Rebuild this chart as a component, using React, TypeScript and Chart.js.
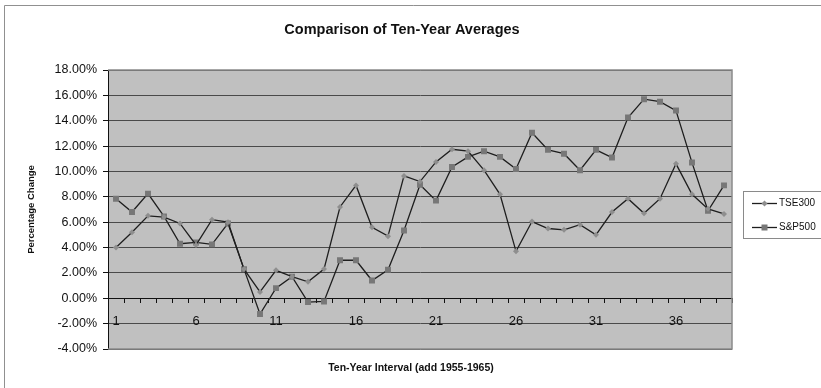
import React, { useEffect, useRef } from "react";
import { Chart, registerables } from "chart.js";

Chart.register(...registerables);

const categories: string[] = Array.from({ length: 39 }, (_, i) => String(i + 1));

const tse300: number[] = [
  4.0, 5.2, 6.5, 6.4, 5.9, 4.2, 6.2, 6.0, 2.3, 0.5,
  2.2, 1.7, 1.3, 2.3, 7.2, 8.9, 5.6, 4.9, 9.65, 9.2,
  10.75, 11.75, 11.6, 10.1, 8.2, 3.7, 6.05, 5.5, 5.4, 5.8,
  5.0, 6.8, 7.85, 6.7, 7.85, 10.6, 8.2, 7.05, 6.65,
];

const sp500: number[] = [
  7.85, 6.8, 8.25, 6.45, 4.3, 4.4, 4.25, 5.9, 2.3, -1.24,
  0.8, 1.7, -0.3, -0.25, 3.0, 3.0, 1.4, 2.25, 5.35, 8.95,
  7.7, 10.35, 11.15, 11.6, 11.15, 10.2, 13.05, 11.7, 11.4, 10.1,
  11.7, 11.1, 14.25, 15.7, 15.5, 14.8, 10.7, 6.9, 8.9,
];

const seriesNames: string[] = ["TSE300", "S&P500"];
const chartTitle = "Comparison of Ten-Year Averages";
const xTitle = "Ten-Year Interval (add 1955-1965)";
const yTitle = "Percentage Change";

const FONT = "'Liberation Sans', Arial, sans-serif";
const LINE = "#1e1e1e";
const TSE_FILL = "#8e8e8e";
const SP_FILL = "#777777";

const decorPlugin = {
  id: "decor",
  beforeDraw(chart: any) {
    const { ctx, chartArea: a } = chart;
    ctx.save();
    ctx.fillStyle = "#ffffff";
    ctx.fillRect(0, 0, chart.width, chart.height);
    ctx.fillStyle = "#c0c0c0";
    ctx.fillRect(a.left, a.top, a.right - a.left, a.bottom - a.top);
    ctx.restore();
  },
  afterDraw(chart: any) {
    const { ctx, chartArea: a } = chart;
    ctx.save();
    // plot border (top, right, bottom)
    ctx.strokeStyle = "#8a8a8a";
    ctx.lineWidth = 1.5;
    ctx.beginPath();
    ctx.moveTo(a.left, a.top);
    ctx.lineTo(a.right, a.top);
    ctx.lineTo(a.right, a.bottom);
    ctx.lineTo(a.left, a.bottom);
    ctx.stroke();

    // outer chart border
    ctx.strokeStyle = "#909090";
    ctx.lineWidth = 1;
    ctx.beginPath();
    ctx.moveTo(4.5, chart.height + 2);
    ctx.lineTo(4.5, 5.5);
    ctx.lineTo(chart.width + 2, 5.5);
    ctx.stroke();

    // title
    ctx.fillStyle = "#111";
    ctx.textAlign = "center";
    ctx.textBaseline = "middle";
    ctx.font = `bold 14.5px ${FONT}`;
    ctx.fillText(chartTitle, 402, 30);

    // x title
    ctx.font = `bold 10.5px ${FONT}`;
    ctx.fillText(xTitle, 411, 368);

    // legend
    const lx = 743.5, ly = 191.5, lw = 90, lh = 47;
    ctx.strokeStyle = "#8a8a8a";
    ctx.lineWidth = 1;
    ctx.strokeRect(lx, ly, lw, lh);
    const items = [
      { y: 203.5, fill: TSE_FILL, style: "diamond" },
      { y: 227.5, fill: SP_FILL, style: "square" },
    ];
    items.forEach((it, i) => {
      ctx.strokeStyle = LINE;
      ctx.lineWidth = 1.3;
      ctx.beginPath();
      ctx.moveTo(752, it.y);
      ctx.lineTo(777, it.y);
      ctx.stroke();
      ctx.fillStyle = it.fill;
      ctx.beginPath();
      if (it.style === "diamond") {
        ctx.moveTo(764.5 - 3, it.y);
        ctx.lineTo(764.5, it.y - 3);
        ctx.lineTo(764.5 + 3, it.y);
        ctx.lineTo(764.5, it.y + 3);
        ctx.closePath();
      } else {
        ctx.rect(764.5 - 3, it.y - 3, 6, 6);
      }
      ctx.fill();
      ctx.fillStyle = "#111";
      ctx.textAlign = "left";
      ctx.textBaseline = "middle";
      ctx.font = `10px ${FONT}`;
      ctx.fillText(seriesNames[i], 779, it.y);
    });
    ctx.restore();
  },
};

export default function App() {
  const ref = useRef<HTMLCanvasElement | null>(null);

  useEffect(() => {
    if (!ref.current) return;
    const chart = new Chart(ref.current, {
      type: "line",
      data: {
        labels: categories,
        datasets: [
          {
            label: seriesNames[0],
            data: tse300,
            borderColor: LINE,
            borderWidth: 1.3,
            pointStyle: "rectRot",
            pointRadius: 3,
            pointBackgroundColor: TSE_FILL,
            pointBorderWidth: 0,
            tension: 0,
          },
          {
            label: seriesNames[1],
            data: sp500,
            borderColor: LINE,
            borderWidth: 1.3,
            pointStyle: "rect",
            pointRadius: 4.2,
            pointBackgroundColor: SP_FILL,
            pointBorderWidth: 0,
            tension: 0,
          },
        ],
      },
      options: {
        responsive: false,
        animation: false,
        layout: { padding: { left: 8, right: 89, top: 70, bottom: 39 } },
        plugins: {
          legend: { display: false },
          title: { display: false },
          tooltip: { enabled: false },
        },
        scales: {
          x: {
            type: "category",
            position: { y: 0 } as any,
            offset: true,
            grid: {
              display: true,
              offset: true,
              drawOnChartArea: false,
              drawTicks: true,
              tickLength: 4,
              color: "#111",
            },
            border: { display: true, color: "#111", width: 1 },
            ticks: {
              autoSkip: false,
              maxRotation: 0,
              padding: 11,
              color: "#111",
              font: { family: FONT, size: 13 },
              callback: (_v: any, idx: number) => (idx % 5 === 0 ? categories[idx] : ""),
            },
          },
          y: {
            min: -4,
            max: 18,
            afterFit: (s: any) => {
              s.width = 100;
            },
            grid: {
              color: "#4a4a4a",
              lineWidth: 1,
              tickLength: 5,
              tickColor: "#111",
            },
            border: { display: true, color: "#111", width: 1 },
            ticks: {
              stepSize: 2,
              padding: 6,
              color: "#111",
              font: { family: FONT, size: 12.5 },
              callback: (v: any) => `${Number(v).toFixed(2)}%`,
            },
            title: {
              display: true,
              text: yTitle,
              color: "#111",
              font: { family: FONT, size: 9.5, weight: "bold" },
              padding: { top: 18, bottom: 0 },
            },
          },
        },
      },
      plugins: [decorPlugin],
    });
    return () => chart.destroy();
  }, []);

  return (
    <div style={{ position: "absolute", left: 0, top: 0, width: 821, height: 388 }}>
      <canvas ref={ref} width={821} height={388} style={{ display: "block" }} />
    </div>
  );
}
